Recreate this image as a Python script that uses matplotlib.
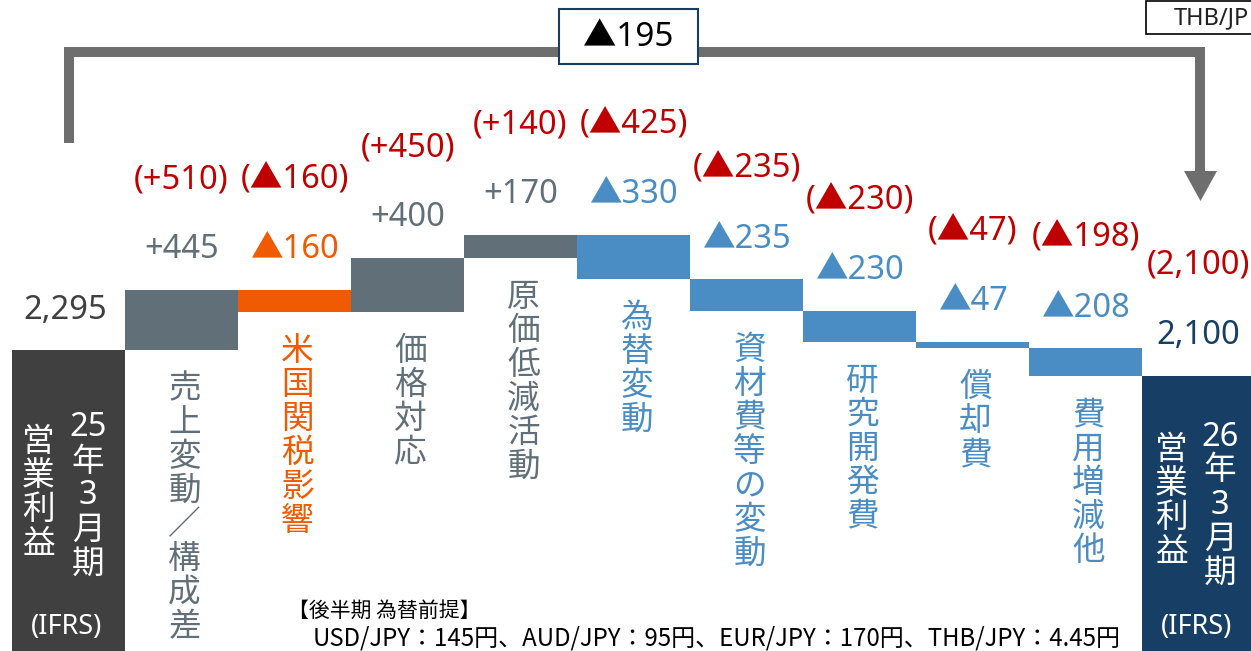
import numpy as np
import matplotlib
matplotlib.use("Agg")
import matplotlib.pyplot as plt
from matplotlib.patches import Rectangle, Polygon

plt.rcParams['font.family'] = ['Noto Sans CJK JP', 'DejaVu Sans']
NUM_FONT = ['Noto Sans', 'Noto Sans CJK JP']  # latin digits first, CJK for ▲

# data
start_label = "25年3月期"
end_label = "26年3月期"
start_value = 2295
end_value = 2100
categories = ["売上変動／構成差", "米国関税影響", "価格対応", "原価低減活動", "為替変動",
              "資材費等の変動", "研究開発費", "償却費", "費用増減他"]
deltas = [445, -160, 400, 170, -330, -235, -230, -47, -208]
value_labels = ["+445", "▲160", "+400", "+170", "▲330", "▲235", "▲230", "▲47", "▲208"]
plan_labels = ["(+510)", "(▲160)", "(+450)", "(+140)", "(▲425)", "(▲235)", "(▲230)", "(▲47)", "(▲198)"]
end_plan_label = "(2,100)"
total_change_label = "▲195"
note_title = "【後半期 為替前提】"
note_rates = "USD/JPY：145円、AUD/JPY：95円、EUR/JPY：170円、THB/JPY：4.45円"

# colours
C_START = "#404040"
C_END = "#173F66"
C_GRAY = "#617078"
C_ORANGE = "#F05A00"
C_BLUE = "#4A8DC4"
C_RED = "#C00000"
C_ARROW = "#6E6E6E"

bar_colors = [C_GRAY, C_ORANGE, C_GRAY, C_GRAY, C_BLUE, C_BLUE, C_BLUE, C_BLUE, C_BLUE]

W, H = 1251, 651
fig = plt.figure(figsize=(W / 100, H / 100), dpi=100)
ax = fig.add_axes([0, 0, 1, 1])
ax.axis('off')
# pixel overlay for annotations that are not tied to the value scale
axp = fig.add_axes([0, 0, 1, 1], zorder=3)
axp.set_xlim(0, W)
axp.set_ylim(H, 0)
axp.axis('off')
axp.patch.set_alpha(0)

# scales: 113 px per column, 0.135 px per unit
px_per_unit = 0.135
col_px = 113
left = -(12 + col_px / 2) / col_px
ax.set_xlim(left, left + W / col_px)
ax.set_ylim(start_value - (H - 350) / px_per_unit, start_value + 350 / px_per_unit)

n = len(deltas)
levels = np.concatenate([[start_value], start_value + np.cumsum(deltas)])
bottoms = np.minimum(levels[:-1], levels[1:])
heights = np.abs(deltas)
xs = np.arange(1, n + 1)

ax.bar(0, start_value, width=1.0, color=C_START, linewidth=0)
ax.bar(xs, heights, bottom=bottoms, width=1.0, color=bar_colors, linewidth=0)
ax.bar(n + 1, end_value, width=1.0, color=C_END, linewidth=0)

val_fs = 23.5
val_colors = [C_GRAY, C_ORANGE, C_GRAY, C_GRAY] + [C_BLUE] * 5
num_kw = dict(family=NUM_FONT, fontweight='light')

# start / end values
ax.annotate(f"{start_value:,}", xy=(0, start_value), xytext=(-3, 40), textcoords='offset pixels',
            ha='center', va='center', fontsize=val_fs, color=C_START, **num_kw)
ax.annotate(f"{end_value:,}", xy=(n + 1, end_value), xytext=(0, 41), textcoords='offset pixels',
            ha='center', va='center', fontsize=val_fs, color=C_END, **num_kw)
ax.annotate(end_plan_label, xy=(n + 1, end_value), xytext=(0, 111), textcoords='offset pixels',
            ha='center', va='center', fontsize=val_fs, color=C_RED, **num_kw)

for i in range(n):
    top = bottoms[i] + heights[i]
    ax.annotate(value_labels[i], xy=(xs[i], top), xytext=(0, 40), textcoords='offset pixels',
                ha='center', va='center', fontsize=val_fs, color=val_colors[i], **num_kw)
    ax.annotate(plan_labels[i], xy=(xs[i], top), xytext=(0, 110), textcoords='offset pixels',
                ha='center', va='center', fontsize=val_fs, color=C_RED, **num_kw)
    # vertical category label, one character per row
    for k, ch in enumerate(categories[i]):
        ax.annotate(ch, xy=(xs[i], bottoms[i]), xytext=(3, -(39 + 34 * k)), textcoords='offset pixels',
                    ha='center', va='center', fontsize=23.5, color=val_colors[i])

# labels inside start / end columns
def column_text(xc_num, xc_jp, y0_num, y0_jp, label):
    parts = [label[:2]] + list(label[2:])
    for k, p in enumerate(parts):
        axp.text(xc_num, y0_num + 34 * k, p, ha='center', va='center', fontsize=23.5,
                 color='white', family=NUM_FONT)
    for k, ch in enumerate("営業利益"):
        axp.text(xc_jp, y0_jp + 34 * k, ch, ha='center', va='center', fontsize=23.5, color='white')

column_text(88, 38, 428, 442, start_label)
column_text(1220, 1171, 437, 450, end_label)
axp.text(67, 627, "(IFRS)", ha='center', va='center', fontsize=19.5, color='white', family=NUM_FONT)
axp.text(1196, 627, "(IFRS)", ha='center', va='center', fontsize=19.5, color='white', family=NUM_FONT)

# bracket arrow showing total change
lw = 10 * 0.72
axp.plot([69, 69, 1200, 1200], [143, 52, 52, 172], color=C_ARROW, lw=lw,
         solid_joinstyle='miter', solid_capstyle='butt')
axp.add_patch(Polygon([[1184, 171], [1217, 171], [1200.5, 201]], closed=True,
                      facecolor=C_ARROW, edgecolor='none'))
axp.add_patch(Rectangle((559, 9), 139, 55, facecolor='white', edgecolor=C_END, lw=1.5, zorder=4))
axp.text(628, 37, total_change_label, ha='center', va='center', fontsize=24, color='black',
         zorder=5, **num_kw)

# currency box at top right (cut by the figure edge in the original)
axp.add_patch(Rectangle((1146, 1), 120, 33, facecolor='white', edgecolor='black', lw=1.2))
axp.text(1249, 18, "THB/JP", ha='right', va='center', fontsize=17, color='#202020', family=NUM_FONT)

# footnote
axp.text(288, 611, note_title, ha='left', va='center', fontsize=15, color='black')
axp.text(313, 638, note_rates, ha='left', va='center', fontsize=17.3, color='black')

fig.savefig("out.png", dpi=100)
